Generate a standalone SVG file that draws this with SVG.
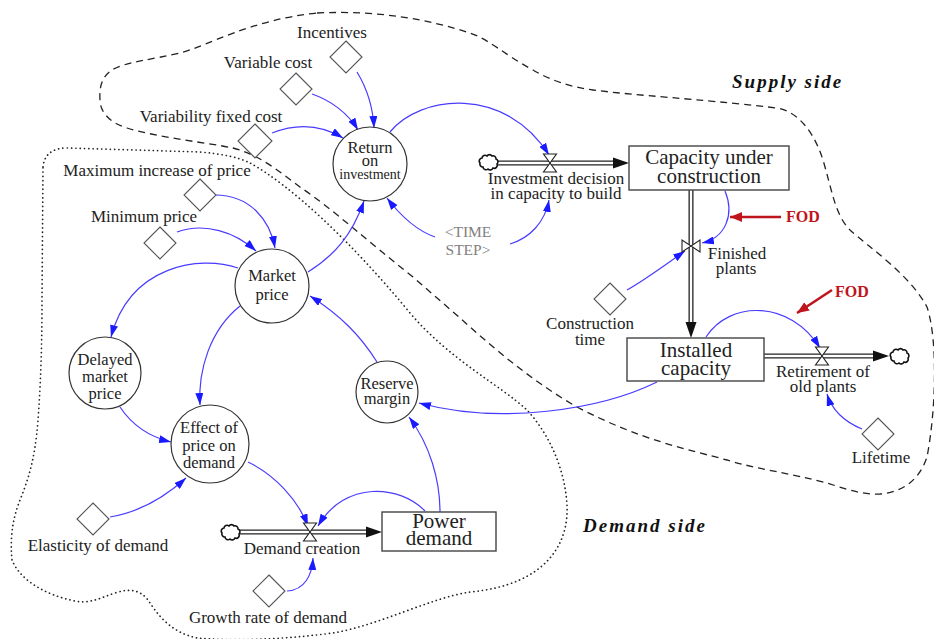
<svg xmlns="http://www.w3.org/2000/svg" xmlns:xlink="http://www.w3.org/1999/xlink" width="934" height="639" viewBox="0 0 934 639">
<style>
  .t { font-family: "Liberation Serif", "Times New Roman", serif; font-size: 17px; fill: #222; }
  .c { text-anchor: middle; }
  .v { font-size: 16.5px; }
  .s { font-size: 21px; }
  .g { fill: #808080; font-size: 15.5px; }
  .side { font-family: "Liberation Serif", serif; font-size: 19px; font-weight: bold; font-style: italic; letter-spacing: 2px; fill: #111; }
  .fod { font-family: "Liberation Serif", serif; font-size: 16px; font-weight: bold; fill: #c0141c; }
  .lk { fill: none; stroke: #4a3cff; stroke-width: 1.2; marker-end: url(#ab); }
  .aux { fill: #fff; stroke: #333; stroke-width: 1.2; }
  .stk { fill: #fff; stroke: #444; stroke-width: 1.4; }
  .dia { fill: #fff; stroke: #555; stroke-width: 1.1; }
  .po { fill: none; stroke: #222; stroke-width: 5; }
  .pi { fill: none; stroke: #fff; stroke-width: 2.4; }
  .valve { fill: #fff; stroke: #222; stroke-width: 1.1; }
  .cloud { fill: #fff; stroke: #111; stroke-width: 1.6; }
  .ah { fill: #111; }
</style>
<defs>
  <marker id="ab" viewBox="0 0 12 8" refX="12" refY="4" markerWidth="12" markerHeight="8" markerUnits="userSpaceOnUse" orient="auto">
    <path d="M0,0 L12,4 L0,8 z" fill="#1a1aff"/>
  </marker>
  <marker id="ar" viewBox="0 0 12 10" refX="12" refY="5" markerWidth="12" markerHeight="10" markerUnits="userSpaceOnUse" orient="auto">
    <path d="M0,0 L12,5 L0,10 z" fill="#c0141c"/>
  </marker>
  <path id="cloud" d="M-7,-5 a3,3 0 0 1 5,-2 a3,3 0 0 1 5,0 a3,3 0 0 1 4,3 a3,3 0 0 1 1,5 a3,3 0 0 1 -4,4 a3,3 0 0 1 -5,1 a3,3 0 0 1 -5,-2 a3,3 0 0 1 -3,-4 a3,3 0 0 1 2,-5 z"/>
</defs>
<rect width="934" height="639" fill="#fff"/>

<g id="boundaries">
  <path d="M317,13 C380,10 430,20 470,33 C490,40 505,55 533,70 C550,80 570,87 593,90 C640,96 690,98 777,108 C800,112 815,135 823,160 C832,190 835,215 850,230 C870,248 910,275 927,307 C938,340 936,410 927,457 C920,478 905,492 880,494 C860,495 840,487 827,483 C790,473 760,470 727,460 C690,450 640,440 577,407 C530,380 490,345 460,318 L413,277 C370,243 330,207 300,187 C280,172 260,155 233,148 C210,143 160,138 127,128 C110,123 100,112 100,100 C99,85 103,76 112,70 C125,62 150,60 180,53 C210,45 250,20 317,13 Z" fill="none" stroke="#222" stroke-width="1.3" stroke-dasharray="7,5"/>
  <path d="M43,167 C44,155 52,148 67,148 L200,152 C222,154 238,157 250,163 C290,185 350,240 410,313 C450,360 500,385 527,410 C550,435 565,470 567,505 C569,545 545,585 470,592 C430,598 380,625 333,633 C280,640 230,641 197,638 C170,632 158,615 148,600 C140,590 130,588 115,593 C100,598 90,604 75,601 C45,595 20,580 12,560 C10,540 12,520 20,500 C28,480 35,460 38,420 C41,380 42,340 42,300 L43,167 Z" fill="none" stroke="#222" stroke-width="1.7" stroke-linecap="round" stroke-dasharray="0.1,4.2"/>
  <text class="side" x="732" y="88">Supply side</text>
  <text class="side" x="583" y="532">Demand side</text>
</g>

<g id="connectors">
  <path class="lk" d="M357,72 C368,90 373,108 374,128"/>
  <path class="lk" d="M312,94 C330,100 348,113 358,130"/>
  <path class="lk" d="M272,133 C295,124 320,124 343,138"/>
  <path class="lk" d="M390,132 C420,95 505,85 549,155"/>
  <path class="lk" d="M435,237 C415,230 400,215 387,198"/>
  <path class="lk" d="M510,244 C530,238 545,222 549,200"/>
  <path class="lk" d="M725,191 C735,215 725,238 702,243"/>
  <path class="lk" d="M627,290 C645,280 665,265 685,251"/>
  <path class="lk" d="M706,337 C730,300 790,300 820,348"/>
  <path class="lk" d="M862,429 C845,422 832,410 827,394"/>
  <path class="lk" d="M657,382 C600,410 500,425 419,403"/>
  <path class="lk" d="M440,512 C440,480 430,445 409,417"/>
  <path class="lk" d="M377,362 C360,335 340,315 310,296"/>
  <path class="lk" d="M308,272 C335,255 352,235 364,201"/>
  <path class="lk" d="M215,195 C250,195 270,220 275,248"/>
  <path class="lk" d="M177,232 C205,222 235,232 256,251"/>
  <path class="lk" d="M238,268 C200,255 130,265 111,337"/>
  <path class="lk" d="M240,306 C210,330 198,370 200,405"/>
  <path class="lk" d="M120,407 C132,425 150,437 171,442"/>
  <path class="lk" d="M110,517 C140,512 165,497 186,478"/>
  <path class="lk" d="M248,462 C275,475 298,500 308,526"/>
  <path class="lk" d="M425,511 C400,485 345,480 318,526"/>
  <path class="lk" d="M287,591 C305,590 312,575 313,558"/>
  <path d="M781,217 L730,217" stroke="#c0141c" stroke-width="2.6" fill="none" marker-end="url(#ar)"/>
  <path d="M832,290 L797,313" stroke="#c0141c" stroke-width="2.6" fill="none" marker-end="url(#ar)"/>
</g>

<g id="flows">
  <g id="flow-investment">
    <path class="po" d="M497,163 L614,163"/>
    <path class="pi" d="M497,163 L616,163"/>
    <polygon class="ah" points="613,157.5 629,163 613,168.5"/>
    <use href="#cloud" x="489" y="163" class="cloud"/>
    <polygon class="valve" points="543.5,154 556.5,154 543.5,172 556.5,172"/>
  </g>
  <g id="flow-finished">
    <path class="po" d="M691,190 L691,323"/>
    <path class="pi" d="M691,190 L691,325"/>
    <polygon class="ah" points="685.5,322 691,338 696.5,322"/>
    <polygon class="valve" points="682,240 682,252 700,240 700,252"/>
  </g>
  <g id="flow-retirement">
    <path class="po" d="M764,356 L874,356"/>
    <path class="pi" d="M764,356 L876,356"/>
    <polygon class="ah" points="873,350.5 889,356 873,361.5"/>
    <use href="#cloud" x="900" y="357" class="cloud"/>
    <polygon class="valve" points="815.5,347 828.5,347 815.5,365 828.5,365"/>
  </g>
  <g id="flow-demand">
    <path class="po" d="M239,532 L367,532"/>
    <path class="pi" d="M239,532 L369,532"/>
    <polygon class="ah" points="366,526.5 382,532 366,537.5"/>
    <use href="#cloud" x="231" y="533" class="cloud"/>
    <polygon class="valve" points="303.5,523 316.5,523 303.5,541 316.5,541"/>
  </g>
  <text class="t c" x="556" y="184">Investment decision</text>
  <text class="t c" x="556" y="199">in capacity to build</text>
  <text class="t c" x="737" y="259">Finished</text>
  <text class="t c" x="736" y="274">plants</text>
  <text class="t c" x="823" y="377">Retirement of</text>
  <text class="t c" x="823" y="392">old plants</text>
  <text class="t c" x="302" y="554">Demand creation</text>
  <text class="fod" x="786" y="222">FOD</text>
  <text class="fod" x="835" y="297">FOD</text>
</g>

<g id="node-incentives">
  <polygon class="dia" points="346,41 362,57 346,73 330,57"/>
  <text class="t c" x="332" y="38">Incentives</text>
</g>
<g id="node-variable-cost">
  <polygon class="dia" points="296,73 312,89 296,105 280,89"/>
  <text class="t c" x="268" y="68">Variable cost</text>
</g>
<g id="node-variability-fixed-cost">
  <polygon class="dia" points="255,124 272,141 255,158 238,141"/>
  <text class="t c" x="211" y="122">Variability fixed cost</text>
</g>
<g id="node-max-increase">
  <polygon class="dia" points="200,179 216,195 200,211 184,195"/>
  <text class="t c" x="157" y="176">Maximum increase of price</text>
</g>
<g id="node-minimum-price">
  <polygon class="dia" points="160,227 176,243 160,259 144,243"/>
  <text class="t c" x="144" y="222">Minimum price</text>
</g>
<g id="node-construction-time">
  <polygon class="dia" points="610,283 626,299 610,315 594,299"/>
  <text class="t c" x="590" y="329">Construction</text>
  <text class="t c" x="590" y="345">time</text>
</g>
<g id="node-lifetime">
  <polygon class="dia" points="878,418 894,434 878,450 862,434"/>
  <text class="t c" x="881" y="463">Lifetime</text>
</g>
<g id="node-elasticity">
  <polygon class="dia" points="93,503 109,519 93,535 77,519"/>
  <text class="t c" x="98" y="551">Elasticity of demand</text>
</g>
<g id="node-growth-rate">
  <polygon class="dia" points="269,575 285,591 269,607 253,591"/>
  <text class="t c" x="268" y="623">Growth rate of demand</text>
</g>

<g id="node-return">
  <circle class="aux" cx="370" cy="164" r="37"/>
  <text class="t c v" x="370" y="153">Return</text>
  <text class="t c v" x="370" y="166">on</text>
  <text class="t c" x="370" y="179" style="font-size:14px">investment</text>
</g>
<g id="node-time-step">
  <text class="t c g" x="468" y="237">&lt;TIME</text>
  <text class="t c g" x="468" y="255">STEP&gt;</text>
</g>
<g id="node-market-price">
  <circle class="aux" cx="272" cy="286" r="37"/>
  <text class="t c v" x="272" y="281">Market</text>
  <text class="t c v" x="272" y="300">price</text>
</g>
<g id="node-delayed-price">
  <circle class="aux" cx="105" cy="373" r="36"/>
  <text class="t c v" x="105" y="365">Delayed</text>
  <text class="t c v" x="105" y="382">market</text>
  <text class="t c v" x="105" y="399">price</text>
</g>
<g id="node-effect-price">
  <circle class="aux" cx="210" cy="444" r="39"/>
  <text class="t c v" x="209" y="433">Effect of</text>
  <text class="t c v" x="209" y="451">price on</text>
  <text class="t c v" x="209" y="468">demand</text>
</g>
<g id="node-reserve-margin">
  <circle class="aux" cx="387" cy="392" r="31"/>
  <text class="t c v" x="387" y="389">Reserve</text>
  <text class="t c v" x="387" y="404">margin</text>
</g>
<g id="node-capacity-construction">
  <rect class="stk" x="629" y="146" width="160" height="44"/>
  <text class="t c s" x="709" y="164">Capacity under</text>
  <text class="t c s" x="709" y="183">construction</text>
</g>
<g id="node-installed-capacity">
  <rect class="stk" x="627" y="338" width="137" height="43"/>
  <text class="t c s" x="696" y="357">Installed</text>
  <text class="t c s" x="696" y="375">capacity</text>
</g>
<g id="node-power-demand">
  <rect class="stk" x="382" y="512" width="114" height="39"/>
  <text class="t c s" x="439" y="528">Power</text>
  <text class="t c s" x="439" y="545">demand</text>
</g>
</svg>
